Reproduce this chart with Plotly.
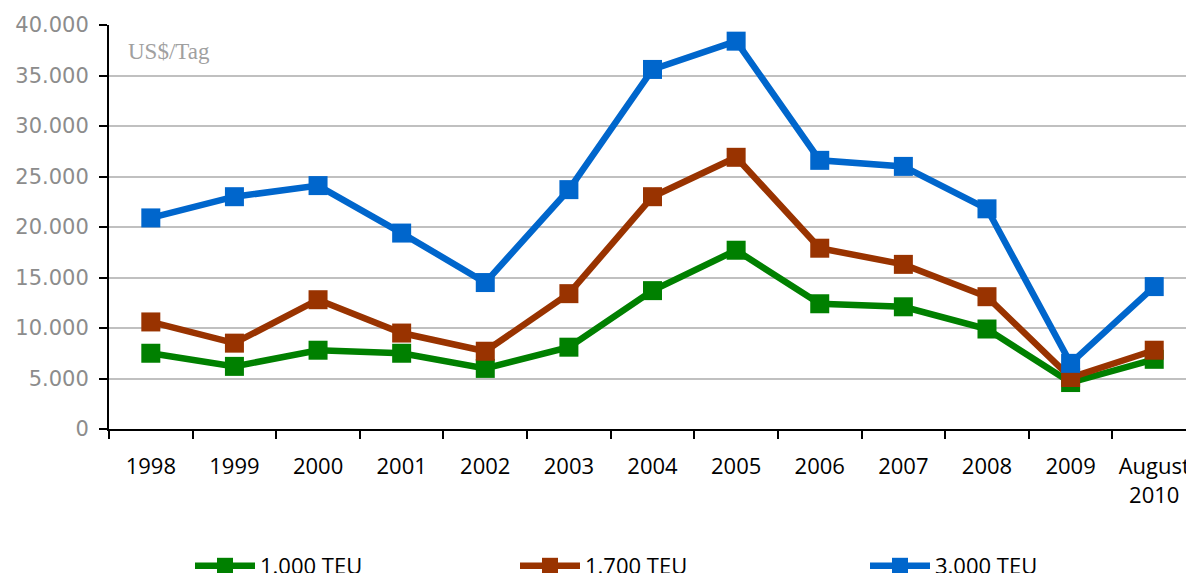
import plotly.graph_objects as go

# Chartermarkt: Tagesraten nach Schiffsgröße
categories = ["1998", "1999", "2000", "2001", "2002", "2003", "2004",
              "2005", "2006", "2007", "2008", "2009", "August<br>2010"]
teu_1000 = [7500, 6200, 7800, 7500, 6000, 8100, 13700, 17700, 12400, 12100, 9900, 4600, 6900]
teu_1700 = [10600, 8500, 12800, 9500, 7700, 13400, 23000, 26900, 17900, 16300, 13100, 5100, 7800]
teu_3000 = [20900, 23000, 24100, 19400, 14500, 23700, 35600, 38400, 26600, 26000, 21800, 6500, 14100]
y_ticks = [0, 5000, 10000, 15000, 20000, 25000, 30000, 35000, 40000]
y_tick_text = ["0", "5.000", "10.000", "15.000", "20.000", "25.000", "30.000", "35.000", "40.000"]

series = [
    ("1.000 TEU", teu_1000, "#008000", "legend"),
    ("1.700 TEU", teu_1700, "#993300", "legend2"),
    ("3.000 TEU", teu_3000, "#0066CC", "legend3"),
]

fig = go.Figure()
for name, vals, color, leg in series:
    fig.add_trace(go.Scatter(
        x=categories, y=vals, name=name, mode="lines+markers",
        line=dict(color=color, width=6.5),
        marker=dict(symbol="square", size=19, color=color),
        legend=leg,
    ))

W, H = 1186, 573
L, T, B = 109, 25, 144
pw = W - L
ph = H - T - B


def px_x(p):
    return (p - L) / pw


def px_y(p):
    return (H - B - p) / ph


legend_common = dict(
    orientation="h", yanchor="middle", xanchor="left",
    font=dict(family="Open Sans", size=22, color="#000000"),
    bgcolor="rgba(0,0,0,0)", itemwidth=60,
)

fig.update_layout(
    width=W, height=H,
    margin=dict(l=L, r=0, t=T, b=B, autoexpand=False),
    plot_bgcolor="white", paper_bgcolor="white",
    showlegend=True,
    legend=dict(x=px_x(190), y=px_y(566), **legend_common),
    legend2=dict(x=px_x(515), y=px_y(566), **legend_common),
    legend3=dict(x=px_x(865), y=px_y(566), **legend_common),
    xaxis=dict(
        type="category", range=[-0.5, 12.38], automargin=False,
        tickson="boundaries", ticks="outside", ticklen=8, tickwidth=2,
        tickcolor="#000000", showline=True, linecolor="#000000", linewidth=2,
        showgrid=False, zeroline=False, ticklabelstandoff=17,
        tickfont=dict(family="Open Sans", size=22, color="#000000"),
    ),
    yaxis=dict(
        range=[0, 40000], tickvals=y_ticks, ticktext=y_tick_text, automargin=False,
        ticks="outside", ticklen=8, tickwidth=2, tickcolor="#000000",
        showline=True, linecolor="#000000", linewidth=2, ticklabelstandoff=6,
        showgrid=True, gridcolor="#c0c0c0", gridwidth=2, zeroline=False,
        tickfont=dict(family="DejaVu Sans", size=21, color="#8c8c8c"),
    ),
    annotations=[dict(
        text="US$/Tag", xref="paper", yref="paper",
        x=px_x(126), y=px_y(52), xanchor="left", yanchor="middle",
        showarrow=False,
        font=dict(family="Liberation Serif", size=23, color="#a0a0a0"),
    )],
)

fig.write_html("out.html")
